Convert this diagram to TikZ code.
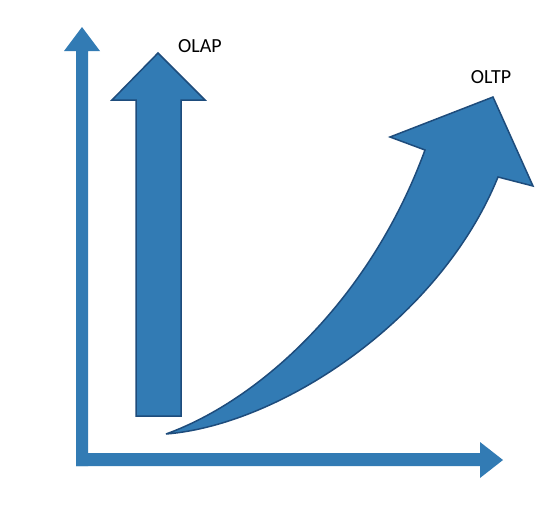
\documentclass[tikz,border=0pt]{standalone}
\usepackage{fontspec}
\setmainfont{Carlito}
\definecolor{arrfill}{RGB}{50,123,180}
\definecolor{arrline}{RGB}{30,76,124}
\tikzset{
  axisarrow/.style={fill=arrfill, draw=none},
  bigarrow/.style={fill=arrfill, draw=arrline, line width=1.5pt, line join=miter, miter limit=4},
  lbl/.style={font=\fontsize{20}{24}\selectfont, text=black, inner sep=0pt}
}
\begin{document}
\begin{tikzpicture}[x=1pt,y=-1pt]
\useasboundingbox[fill=white] (0,0) rectangle (536,528);
% axes
\fill[axisarrow] (76,466) -- (76,51) -- (64,51) -- (82,27) -- (100,51) -- (88,51) -- (88,466) -- cycle;
\fill[axisarrow] (76,466) -- (76,453) -- (480,453) -- (480,442) -- (503,460) -- (480,478) -- (480,466) -- cycle;
% OLAP arrow
\draw[bigarrow] (136,416) -- (136,100) -- (112,100) -- (158,53) -- (205,100) -- (181,100) -- (181,416) -- cycle;
% OLTP arrow
\draw[bigarrow] (166,434) .. controls (280,425) and (440,320) .. (498,177)
  -- (533,186) -- (493,97) -- (390,137) -- (425,150)
  .. controls (370,300) and (260,400) .. (166,434) -- cycle;
\node[lbl] (olap) at (200,46) {OLAP};
\node[lbl] (oltp) at (491,77) {OLTP};
\end{tikzpicture}
\end{document}
